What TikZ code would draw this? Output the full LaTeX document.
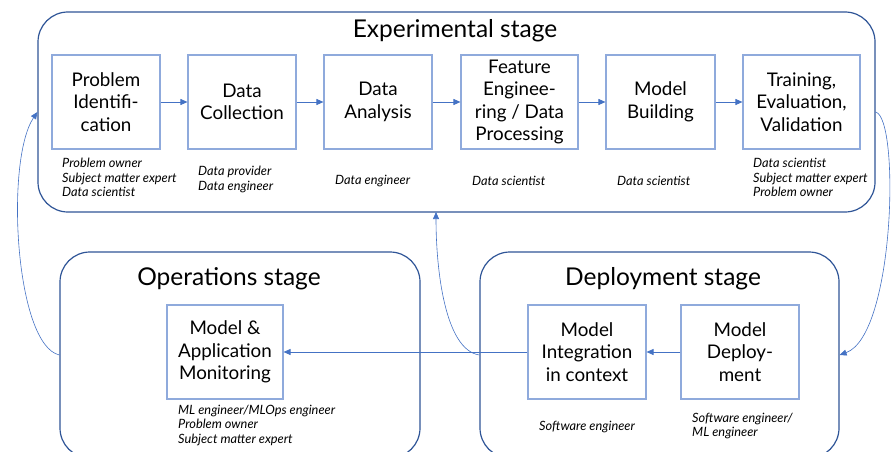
\documentclass[tikz,border=0pt]{standalone}
\usepackage{fontspec}
\setmainfont{Lato}
\usetikzlibrary{arrows.meta}
\definecolor{stageblue}{HTML}{2F5597}
\definecolor{boxblue}{HTML}{8FAADC}
\definecolor{arrowblue}{HTML}{4472C4}
\begin{document}
\begin{tikzpicture}[x=1pt,y=-1pt,
  stage/.style={draw=stageblue,line width=1.2pt,rounded corners=30pt,inner sep=0pt,rectangle},
  titletext/.style={font=\fontsize{24.5}{28}\selectfont,inner sep=0pt},
  stepbox/.style={draw=boxblue,line width=1.1pt,inner sep=0pt,minimum height=94pt,align=center,
     font=\fontsize{18.8}{22.5}\selectfont},
  role/.style={font=\fontsize{12.8}{14.5}\selectfont\itshape,align=left,inner sep=0pt,anchor=west},
  flow/.style={draw=arrowblue,line width=0.8pt,-{Triangle[length=7pt,width=6pt]}},
  loop/.style={draw=arrowblue,line width=0.6pt,-{Triangle[length=7pt,width=6pt]}}
]
\useasboundingbox (0,0) rectangle (896,452);
% stages
\node[stage,minimum width=837pt,minimum height=200pt] (exp) at (456.5,112) {};
\node[stage,minimum width=360pt,minimum height=206pt] (ops) at (240,355) {};
\node[stage,minimum width=359pt,minimum height=206pt] (dep) at (659.5,355) {};
\node[titletext] (expT) at (455,31) {Experimental stage};
\node[titletext] (opsT) at (229,279) {Operations stage};
\node[titletext] (depT) at (663,279) {Deployment stage};
% steps
\node[stepbox,minimum width=108pt] (pi) at (106,102) {Problem\\Identifi-\\cation};
\node[stepbox,minimum width=108pt] (dc) at (242,102) {Data\\Collection};
\node[stepbox,minimum width=108pt] (da) at (378,102) {Data\\Analysis};
\node[stepbox,minimum width=117pt] (fe) at (519.5,102) {Feature\\Enginee-\\ring / Data\\Processing};
\node[stepbox,minimum width=109pt] (mb) at (660.5,102) {Model\\Building};
\node[stepbox,minimum width=117pt] (te) at (801.5,102) {Training,\\Evaluation,\\Validation};
\node[stepbox,minimum width=116pt] (mam) at (225,352) {Model \&\\Application\\Monitoring};
\node[stepbox,minimum width=118pt] (mi) at (587,352) {Model\\Integration\\in context};
\node[stepbox,minimum width=118pt] (md) at (740,352) {Model\\Deploy-\\ment};
% roles
\node[role] (piR) at (62,177.5) {Problem owner\\Subject matter expert\\Data scientist};
\node[role] (dcR) at (198,179.5) {Data provider\\Data engineer};
\node[role] (daR) at (335,181) {Data engineer};
\node[role] (feR) at (472,181) {Data scientist};
\node[role] (mbR) at (617,181) {Data scientist};
\node[role] (teR) at (753,177.5) {Data scientist\\Subject matter expert\\Problem owner};
\node[role] (mamR) at (178,425) {ML engineer/MLOps engineer\\Problem owner\\Subject matter expert};
\node[role] (miR) at (539,427) {Software engineer};
\node[role] (mdR) at (692,426) {Software engineer/\\ML engineer};
% flows
\draw[flow] (pi) -- (dc);
\draw[flow] (dc) -- (da);
\draw[flow] (da) -- (fe);
\draw[flow] (fe) -- (mb);
\draw[flow] (mb) -- (te);
\draw[flow] (md) -- (mi);
\draw[flow] (mi) -- (mam);
\coordinate (expin) at (436,212);
\draw[loop] (exp.east) .. controls (900,118) and (895,335) .. (dep.east);
\draw[loop] (dep.west) .. controls (445,350) and (436,270) .. (expin);
\draw[loop] (ops.west) .. controls (15,345) and (5,160) .. (exp.west);
\end{tikzpicture}
\end{document}
